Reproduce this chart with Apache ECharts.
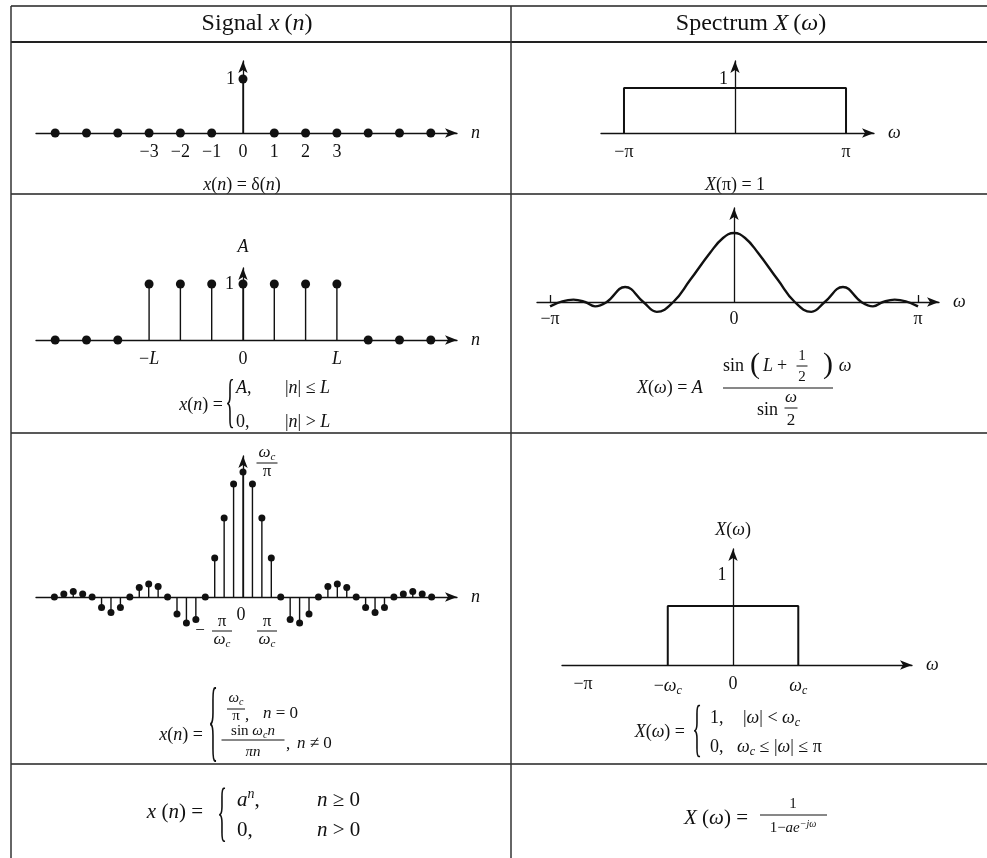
<!DOCTYPE html>
<html>
<head>
<meta charset="utf-8">
<title>Signal / Spectrum pairs</title>
<script src="https://cdn.jsdelivr.net/npm/echarts@6/dist/echarts.min.js"></script>
<style>
  html, body { margin: 0; padding: 0; background: #fff; }
  #chart { width: 987px; height: 858px; }
</style>
</head>
<body>
<div id="chart"></div>
<script>
// ---- values ----
// row 1: unit impulse
const deltaN = [-6, -5, -4, -3, -2, -1, 0, 1, 2, 3, 4, 5, 6];
const deltaX = [0, 0, 0, 0, 0, 0, 1, 0, 0, 0, 0, 0, 0];
const deltaTicks = [-3, -2, -1, 0, 1, 2, 3];
// row 1 spectrum (omega in units of pi)
const flatW = [-1, -1, 1, 1];
const flatX = [0, 1, 1, 0];
// row 2: rectangular pulse, L = 3
const rectN = [-6, -5, -4, -3, -2, -1, 0, 1, 2, 3, 4, 5, 6];
const rectX = [0, 0, 0, 1, 1, 1, 1, 1, 1, 1, 0, 0, 0];
const rectTicks = [-3, 0, 3];
// row 2 spectrum
const dirichletW = [-1, -0.873, -0.81, -0.755, -0.692, -0.592, -0.493, -0.42, -0.33, -0.24, -0.13, -0.06, 0,
                    0.06, 0.13, 0.24, 0.33, 0.42, 0.493, 0.592, 0.692, 0.755, 0.81, 0.873, 1];
const dirichletX = [-0.44, 0.24, 0, -0.44, 0, 1.52, 0, -1.0, 0, 2.2, 5.0, 6.5, 7,
                    6.5, 5.0, 2.2, 0, -1.0, 0, 1.52, 0, -0.44, 0, 0.24, -0.44];
// row 3: ideal lowpass impulse response, n = -20..20
const sincN = [-20, -19, -18, -17, -16, -15, -14, -13, -12, -11, -10, -9, -8, -7, -6, -5, -4, -3, -2, -1, 0,
               1, 2, 3, 4, 5, 6, 7, 8, 9, 10, 11, 12, 13, 14, 15, 16, 17, 18, 19, 20];
const sincX = [0, 0.006, 0.011, 0.006, 0, -0.021, -0.031, -0.021, 0, 0.019, 0.026, 0.021, 0, -0.034, -0.052, -0.045, 0, 0.078, 0.158, 0.226, 0.25,
               0.226, 0.158, 0.078, 0, -0.045, -0.052, -0.034, 0, 0.021, 0.026, 0.019, 0, -0.021, -0.031, -0.021, 0, 0.006, 0.011, 0.006, 0];
// row 3 spectrum
const wc = 0.435;
const lowpassW = [-wc, -wc, wc, wc];
const lowpassX = [0, 1, 1, 0];

const FONT = '"Liberation Serif", "Times New Roman", serif';
const INK = '#111';

function pairs(xs, ys) { return xs.map(function (x, i) { return [x, ys[i]]; }); }

// rich styles for graphic text (zrender wants full font on each token)
function richFor(size) {
  const small = Math.round(size * 0.65);
  return {
    i: { fontFamily: FONT, fontSize: size, fontStyle: 'italic', fill: INK },
    sub: { fontFamily: FONT, fontSize: small, fontStyle: 'italic', fill: INK, padding: [Math.round(size * 0.55), 0, 0, 0] },
    sup: { fontFamily: FONT, fontSize: small, fontStyle: 'italic', fill: INK, padding: [0, 0, Math.round(size * 0.55), 0] }
  };
}
// same thing for axis labels (model styles use color)
function axisRich(size) {
  return {
    i: { fontFamily: FONT, fontSize: size, fontStyle: 'italic', color: INK },
    sub: { fontFamily: FONT, fontSize: 12, fontStyle: 'italic', color: INK, padding: [10, 0, 0, 0] }
  };
}

function T(x, y, text, size, extra) {
  size = size || 18;
  return {
    type: 'text', x: x, y: y, silent: true,
    style: Object.assign({
      text: text, fontFamily: FONT, fontSize: size, fill: INK,
      align: 'center', verticalAlign: 'middle', rich: richFor(size)
    }, extra || {})
  };
}
function L(x1, y1, x2, y2, w, color) {
  return { type: 'line', silent: true, shape: { x1: x1, y1: y1, x2: x2, y2: y2 },
           style: { stroke: color || INK, lineWidth: w || 1 } };
}
function brace(x, cy, h) {
  return { type: 'text', x: x, y: cy, scaleY: h / 16, silent: true,
           style: { text: '{', fontFamily: FONT, fontSize: 20, fill: INK, align: 'center', verticalAlign: 'middle' } };
}
function frac(cx, cy, num, den, w, size, up, down) {
  return [
    T(cx, cy - (up || 9), num, size),
    L(cx - w / 2, cy, cx + w / 2, cy, 1),
    T(cx, cy + (down || 9), den, size)
  ];
}

// ---- table rules ----
const rules = [
  L(11, 6, 987, 6, 1.5, '#222'),
  L(11, 42, 987, 42, 2, '#222'),
  L(11, 194, 987, 194, 1.5, '#222'),
  L(11, 433, 987, 433, 1.5, '#222'),
  L(11, 764, 987, 764, 1.5, '#222'),
  L(11, 6, 11, 858, 1.5, '#333'),
  L(511, 6, 511, 858, 1.5, '#333')
];

// ---- formulas and loose labels ----
const texts = [].concat(
  T(257, 24, 'Signal {i|x}\u2009({i|n})', 24),
  T(751, 24, 'Spectrum {i|X}\u2009({i|ω})', 24),
  // row 1
  T(242, 185, '{i|x}({i|n}) = δ({i|n})', 18),
  T(735, 185, '{i|X}(π) = 1', 18),
  // row 2 left
  T(223, 405, '{i|x}({i|n}) =', 18, { align: 'right' }),
  brace(230, 405, 47),
  T(236, 388, '{i|A},', 18, { align: 'left' }),
  T(285, 388, '|{i|n}| ≤ {i|L}', 18, { align: 'left' }),
  T(236, 422, '0,', 18, { align: 'left' }),
  T(285, 422, '|{i|n}| > {i|L}', 18, { align: 'left' }),
  // row 2 right
  T(637, 388, '{i|X}({i|ω}) = {i|A}', 18, { align: 'left' }),
  T(723, 366, 'sin', 18, { align: 'left' }),
  T(755, 365, '(', 30),
  T(768, 366, '{i|L}', 18),
  T(782, 366, '+', 18),
  frac(802, 366, '1', '2', 11, 15, 10, 11),
  T(828, 365, ')', 30),
  T(845, 366, '{i|ω}', 18),
  L(723, 388, 833, 388, 1),
  T(757, 410, 'sin', 18, { align: 'left' }),
  frac(791, 408, '{i|ω}', '2', 13, 17, 10, 13),
  // row 3 left
  frac(267, 463, '{i|ω}{sub|c}', 'π', 21, 17, 10, 9),
  T(200, 631, '−', 17),
  frac(222, 631, 'π', '{i|ω}{sub|c}', 20, 17, 9, 9),
  T(241, 615, '0', 18),
  frac(267, 631, 'π', '{i|ω}{sub|c}', 20, 17, 9, 9),
  T(203, 735, '{i|x}({i|n}) =', 18, { align: 'right' }),
  brace(213, 726, 72),
  frac(236, 709, '{i|ω}{sub|c}', 'π', 18, 15, 11, 7),
  T(245, 716, ',', 17, { align: 'left' }),
  T(263, 714, '{i|n} = 0', 17, { align: 'left' }),
  frac(253, 740, 'sin {i|ω}{sub|c}{i|n}', '{i|πn}', 63, 15, 9, 12),
  T(286, 745, ',', 17, { align: 'left' }),
  T(297, 744, '{i|n} ≠ 0', 17, { align: 'left' }),
  // row 3 right
  T(722, 575, '1', 18),
  T(685, 732, '{i|X}({i|ω}) =', 18, { align: 'right' }),
  brace(697, 733, 50),
  T(710, 718, '1,', 18, { align: 'left' }),
  T(743, 718, '|{i|ω}| < {i|ω}{sub|c}', 18, { align: 'left' }),
  T(710, 747, '0,', 18, { align: 'left' }),
  T(737, 747, '{i|ω}{sub|c} ≤ |{i|ω}| ≤ π', 18, { align: 'left' }),
  // row 4
  T(203, 812, '{i|x} ({i|n}) =', 21, { align: 'right' }),
  brace(222, 816, 53),
  T(237, 800, '{i|a}{sup|n},', 21, { align: 'left' }),
  T(317, 800, '{i|n} ≥ 0', 21, { align: 'left' }),
  T(237, 830, '0,', 21, { align: 'left' }),
  T(317, 830, '{i|n} > 0', 21, { align: 'left' }),
  T(748, 818, '{i|X} ({i|ω}) =', 21, { align: 'right' }),
  T(793, 804, '1', 15),
  L(760, 815, 827, 815, 1),
  T(793, 828, '1−{i|ae}{sup|−jω}', 15)
);

// ---- axes ----
const nameStyle = { fontFamily: FONT, fontSize: 18, fontStyle: 'italic', color: INK };
function xAxisOf(gi, min, max, name, label, tick) {
  return {
    type: 'value', gridIndex: gi, min: min, max: max,
    name: name, nameLocation: 'end', nameGap: 14, nameTextStyle: nameStyle,
    axisLine: { show: true, onZero: true, symbol: ['none', 'arrow'], symbolSize: [7, 12],
                lineStyle: { color: INK, width: 1.3 } },
    axisTick: tick || { show: false },
    splitLine: { show: false },
    axisLabel: label || { show: false }
  };
}
function yAxisOf(gi, max, name, label) {
  return {
    type: 'value', gridIndex: gi, min: 0, max: max,
    name: name || '', nameLocation: 'end', nameGap: 10,
    nameTextStyle: Object.assign({ rich: axisRich(18) }, nameStyle, { fontStyle: 'normal' }),
    axisLine: { show: true, onZero: true, symbol: ['none', 'arrow'], symbolSize: [7, 12],
                lineStyle: { color: INK, width: 1.3 } },
    axisTick: { show: false },
    splitLine: { show: false },
    axisLabel: label || { show: false }
  };
}
function labelOf(values, fmt, extra) {
  return Object.assign({
    show: true, customValues: values, formatter: fmt, margin: 10,
    fontFamily: FONT, fontSize: 18, color: INK, rich: axisRich(18)
  }, extra || {});
}
function minus(v) { return v < 0 ? '−' + (-v) : String(v); }
function piLabel(v) { return v === 0 ? '0' : (v < 0 ? '−π' : 'π'); }
function one() { return '1'; }

const grids = [
  { left: 36, top: 61, width: 421, height: 72 },
  { left: 601, top: 61, width: 273, height: 72 },
  { left: 36, top: 268, width: 421, height: 72 },
  { left: 537, top: 208, width: 402, height: 94 },
  { left: 36, top: 456, width: 421, height: 141 },
  { left: 562, top: 549, width: 350, height: 116 }
].map(function (g) { return Object.assign({ containLabel: false, outerBoundsMode: 'none' }, g); });

const xAxes = [
  xAxisOf(0, -6.613, 6.837, 'n', labelOf(deltaTicks, minus)),
  xAxisOf(1, -1.207, 1.252, 'ω', labelOf([-1, 1], piLabel)),
  xAxisOf(2, -6.613, 6.837, 'n', labelOf(rectTicks, function (v) {
    return v === 0 ? '0' : (v < 0 ? '−{i|L}' : '{i|L}');
  })),
  xAxisOf(3, -1.071, 1.114, 'ω', labelOf([-1, 0, 1], piLabel, { margin: 8 }),
          { show: true, inside: true, length: 7, customValues: [-1, 1], lineStyle: { color: INK, width: 1.3 } }),
  xAxisOf(4, -21.95, 22.69, 'n'),
  xAxisOf(5, -1.14, 1.193, 'ω', labelOf([-1, -wc, 0, wc], function (v) {
    if (v === 0) return '0';
    if (v === -1) return '−π';
    return (v < 0 ? '−' : '') + '{i|ω}{sub|c}';
  }, { margin: 10 }))
];
// the "1" labels sit beside the zero line, not at the grid edge: negative margin pulls them in
const yAxes = [
  yAxisOf(0, 1.333, '', labelOf([1], one, { margin: -199 })),
  yAxisOf(1, 1.6, '', labelOf([1], one, { margin: -127, verticalAlign: 'bottom' })),
  yAxisOf(2, 1.286, '{i|A}', labelOf([1], one, { margin: -198 })),
  yAxisOf(3, 9.54),
  yAxisOf(4, 0.282),
  yAxisOf(5, 1.966, '{i|X}({i|ω})')
];
yAxes[2].nameGap = 12;
yAxes[5].nameGap = 10;

function stems(gi, xs, ys, dot) {
  return [
    { type: 'bar', xAxisIndex: gi, yAxisIndex: gi, data: pairs(xs, ys), barWidth: 1.4,
      itemStyle: { color: INK }, clip: false, silent: true },
    { type: 'scatter', xAxisIndex: gi, yAxisIndex: gi, data: pairs(xs, ys), symbolSize: dot,
      itemStyle: { color: INK, opacity: 1 }, clip: false, silent: true }
  ];
}
function curve(gi, xs, ys, width, smooth) {
  return { type: 'line', xAxisIndex: gi, yAxisIndex: gi, data: pairs(xs, ys), showSymbol: false,
           smooth: smooth || false, lineStyle: { color: INK, width: width }, clip: false, silent: true };
}

const chart = echarts.init(document.getElementById('chart'));
chart.setOption({
  backgroundColor: '#fff',
  animation: false,
  textStyle: { fontFamily: FONT },
  grid: grids,
  xAxis: xAxes,
  yAxis: yAxes,
  series: [].concat(
    stems(0, deltaN, deltaX, 9),
    curve(1, flatW, flatX, 2),
    stems(2, rectN, rectX, 9),
    curve(3, dirichletW, dirichletX, 2.4, 0.45),
    stems(4, sincN, sincX, 7),
    curve(5, lowpassW, lowpassX, 2)
  ),
  graphic: { elements: rules.concat(texts) }
});
</script>
</body>
</html>
